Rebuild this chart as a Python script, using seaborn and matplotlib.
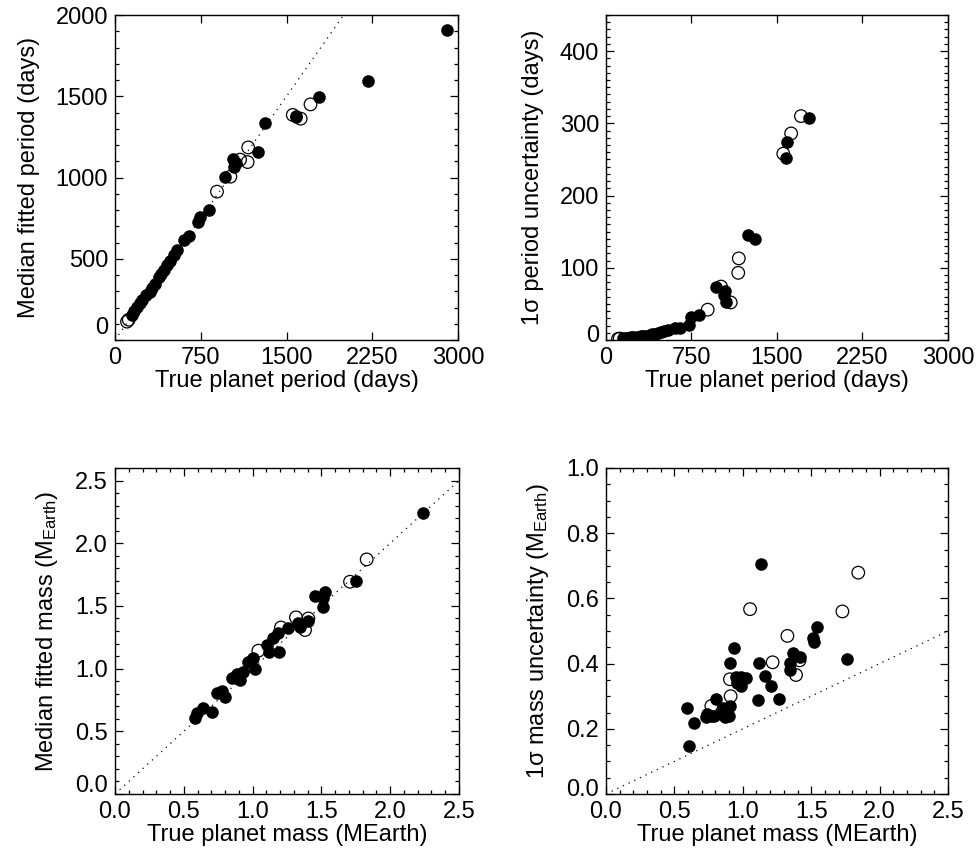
import numpy as np
import pandas as pd
import matplotlib
matplotlib.use("Agg")
import matplotlib.pyplot as plt
import matplotlib.transforms as mtransforms
from matplotlib.ticker import FixedLocator, MultipleLocator, NullLocator, FormatStrFormatter
import seaborn as sns

# ---------------- data ----------------
# period panels (same planets in both top panels)
period_true = [2900, 2215, 1780, 1710, 1624, 1585, 1580, 1555, 1310, 1248,
               1165, 1160, 1094, 1035, 1040, 1055, 965, 1009, 892, 819,
               746, 726, 645, 601, 542, 513, 480, 455, 426, 405,
               382, 350, 324, 306, 270, 236, 215, 192, 170, 149,
               120, 105]
period_fit = [1910, 1594, 1497, 1450, 1362, 1370, 1380, 1385, 1337, 1159,
              1185, 1095, 1110, 1112, 1067, 1090, 1005, 1005, 913, 800,
              759, 728, 640, 615, 554, 523, 485, 460, 431, 405,
              390, 345, 318, 297, 280, 246, 225, 205, 180, 154,
              125, 113]
period_err = [530, 480, 308, 310, 286, 274, 252, 258, 140, 146,
              113, 93, 52, 62, 68, 53, 74, 74, 42, 35,
              32, 21, 17, 16, 14, 12, 11, 10, 9, 8,
              7, 6, 5.5, 5, 4.5, 4, 3.5, 3, 2.5, 2.5,
              2, 1.5]
period_filled = [1, 1, 1, 0, 0, 1, 1, 0, 1, 1,
                 0, 0, 0, 1, 1, 1, 1, 0, 0, 1,
                 1, 1, 1, 1, 1, 1, 1, 1, 1, 1,
                 1, 1, 1, 1, 1, 1, 1, 1, 1, 1,
                 0, 0]

# mass: fitted mass panel
mfit_true = [0.581, 0.594, 0.642, 0.703, 0.739, 0.775, 0.799, 0.848, 0.885, 0.909,
             0.933, 0.969, 1.005, 1.017, 1.102, 1.12, 1.151, 1.187, 1.194, 1.26,
             1.332, 1.347, 1.405, 1.453, 1.526, 1.509, 1.515, 1.751, 2.24,
             1.042, 1.206, 1.315, 1.381, 1.405, 1.708, 1.829]
mfit_val = [0.603, 0.643, 0.683, 0.656, 0.803, 0.822, 0.776, 0.922, 0.96, 0.91,
            0.975, 1.055, 1.081, 0.994, 1.188, 1.13, 1.242, 1.281, 1.135, 1.32,
            1.361, 1.33, 1.382, 1.582, 1.613, 1.489, 1.56, 1.701, 2.245,
            1.143, 1.328, 1.409, 1.308, 1.40, 1.693, 1.871]
mfit_filled = [1] * 29 + [0] * 7

# mass: uncertainty panel
merr_true = [1.133, 1.54, 1.51, 1.52, 0.936, 1.369, 1.42, 0.906, 1.121, 1.764,
             1.345, 1.345, 1.162, 0.95, 0.99, 1.02, 0.96, 0.99, 1.204, 0.804,
             1.113, 1.267, 0.59, 0.906, 0.857, 0.74, 0.77, 0.73, 0.79, 0.84,
             0.87, 0.9, 0.645, 0.607,
             1.844, 1.053, 1.728, 1.326, 1.218, 1.415, 1.389, 0.906, 0.911, 0.77]
merr_val = [0.706, 0.513, 0.48, 0.465, 0.447, 0.434, 0.42, 0.401, 0.401, 0.413,
            0.401, 0.38, 0.362, 0.36, 0.36, 0.355, 0.34, 0.33, 0.331, 0.29,
            0.288, 0.29, 0.265, 0.27, 0.265, 0.245, 0.24, 0.235, 0.24, 0.245,
            0.235, 0.24, 0.219, 0.147,
            0.679, 0.567, 0.56, 0.485, 0.404, 0.41, 0.365, 0.352, 0.30, 0.27]
merr_filled = [1] * 34 + [0] * 10

# axis ticks
period_xticks = [0, 750, 1500, 2250, 3000]
fitp_yticks = [0, 500, 1000, 1500, 2000]
errp_yticks = [0, 100, 200, 300, 400]
mass_xticks = [0.0, 0.5, 1.0, 1.5, 2.0, 2.5]
fitm_yticks = [0.0, 0.5, 1.0, 1.5, 2.0, 2.5]
errm_yticks = [0.0, 0.2, 0.4, 0.6, 0.8, 1.0]

# ---------------- style ----------------
sns.set_style("ticks")
plt.rcParams["font.family"] = ["Liberation Sans", "DejaVu Sans"]
plt.rcParams["mathtext.fontset"] = "custom"
plt.rcParams["mathtext.rm"] = "Liberation Sans"
plt.rcParams["mathtext.it"] = "Liberation Sans:italic"
for k in ("text.color", "axes.labelcolor", "xtick.color", "ytick.color", "axes.edgecolor"):
    plt.rcParams[k] = "black"
plt.rcParams["axes.linewidth"] = 1.0

FS = 17

fig = plt.figure(figsize=(9.78, 8.57), dpi=100)
W, H = 978.0, 857.0


def add_ax(left, top, right, bottom):
    return fig.add_axes([left / W, 1 - bottom / H, (right - left) / W, (bottom - top) / H])


ax1 = add_ax(115, 15, 458, 340)
ax2 = add_ax(606, 15, 948, 340)
ax3 = add_ax(115, 468, 459, 794)
ax4 = add_ax(606, 468, 948, 794)


def draw(ax, x, y, filled):
    df = pd.DataFrame({"x": x, "y": y, "filled": filled})
    o = df[df["filled"] == 0]
    f = df[df["filled"] == 1]
    sns.scatterplot(data=o, x="x", y="y", ax=ax, s=82, marker="o", color="black",
                    facecolor="none", edgecolor="black", linewidth=0.9, legend=False)
    sns.scatterplot(data=f, x="x", y="y", ax=ax, s=82, marker="o", color="black",
                    edgecolor="black", linewidth=0, legend=False)


draw(ax1, period_true, period_fit, period_filled)
draw(ax2, period_true, period_err, period_filled)
draw(ax3, mfit_true, mfit_val, mfit_filled)
draw(ax4, merr_true, merr_val, merr_filled)

dot = (0, (1, 4))
ax1.axline((0, 0), slope=1, color="black", lw=0.9, linestyle=dot)
ax3.axline((0, 0), slope=1, color="black", lw=0.9, linestyle=dot)
ax4.axline((0, 0), slope=0.2, color="black", lw=0.9, linestyle=dot)

# limits and ticks
for ax in (ax1, ax2):
    ax.set_xlim(0, 3000)
    ax.xaxis.set_major_locator(FixedLocator(period_xticks))
    ax.xaxis.set_minor_locator(NullLocator())
ax1.set_ylim(0, 2000)
ax1.yaxis.set_major_locator(FixedLocator(fitp_yticks))
ax1.yaxis.set_minor_locator(MultipleLocator(100))
ax2.set_ylim(0, 450)
ax2.yaxis.set_major_locator(FixedLocator(errp_yticks))
ax2.yaxis.set_minor_locator(MultipleLocator(10))

for ax in (ax3, ax4):
    ax.set_xlim(0, 2.5)
    ax.xaxis.set_major_locator(FixedLocator(mass_xticks))
    ax.xaxis.set_minor_locator(MultipleLocator(0.1))
    ax.xaxis.set_major_formatter(FormatStrFormatter("%.1f"))
    ax.yaxis.set_major_formatter(FormatStrFormatter("%.1f"))
ax3.set_ylim(0, 2.6)
ax3.yaxis.set_major_locator(FixedLocator(fitm_yticks))
ax3.yaxis.set_minor_locator(MultipleLocator(0.1))
ax4.set_ylim(0, 1.0)
ax4.yaxis.set_major_locator(FixedLocator(errm_yticks))
ax4.yaxis.set_minor_locator(MultipleLocator(0.05))

for ax in (ax1, ax2, ax3, ax4):
    ax.tick_params(which="both", direction="in", top=True, right=True,
                   color="black", width=0.9, labelsize=FS, labelcolor="black")
    ax.tick_params(which="major", length=5.5)
    ax.tick_params(which="minor", length=2.8)
    ax.tick_params(axis="x", which="major", pad=5)
    ax.tick_params(axis="y", which="major", pad=5)
    for s in ax.spines.values():
        s.set_visible(True)
        s.set_color("black")
        s.set_linewidth(1.0)

ax1.set_xlabel("True planet period (days)", fontsize=FS, labelpad=0.5)
ax2.set_xlabel("True planet period (days)", fontsize=FS, labelpad=0.5)
ax3.set_xlabel("True planet mass (MEarth)", fontsize=FS, labelpad=0.5)
ax4.set_xlabel("True planet mass (MEarth)", fontsize=FS, labelpad=0.5)
ax1.set_ylabel("Median fitted period (days)", fontsize=FS, labelpad=11)
ax2.set_ylabel("1\u03c3 period uncertainty (days)", fontsize=FS, labelpad=11)
ax3.set_ylabel(r"Median fitted mass (M$_{\mathrm{Earth}}$)", fontsize=FS, labelpad=11)
ax4.set_ylabel("1\u03c3 mass uncertainty (M$_{\\mathrm{Earth}}$)", fontsize=FS, labelpad=11)

# lowest y tick label sits a little above the axis (as in the original)
for ax, dy in ((ax1, 15), (ax2, 7), (ax3, 11), (ax4, 6)):
    lbl = ax.yaxis.get_major_ticks()[0].label1
    lbl.set_transform(lbl.get_transform() +
                      mtransforms.ScaledTranslation(0, dy / 100.0, fig.dpi_scale_trans))

fig.savefig("out.png", dpi=100, facecolor="white")
